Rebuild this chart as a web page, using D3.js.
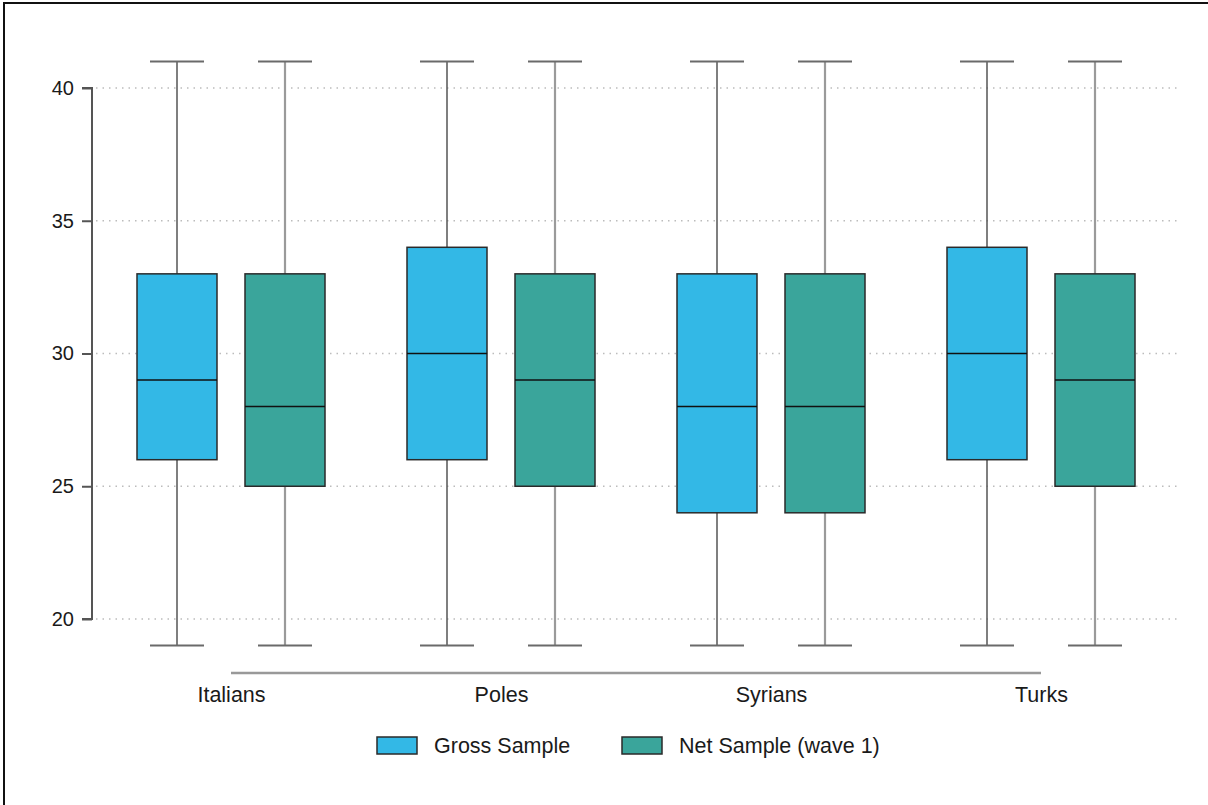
<!DOCTYPE html>
<html>
<head>
<meta charset="utf-8">
<script src="https://cdn.jsdelivr.net/npm/d3@7"></script>
<style>
  html, body { margin: 0; padding: 0; background: #fff; }
  svg { display: block; }
  text { font-family: "Liberation Sans", Arial, sans-serif; fill: #1a1a1a; }
</style>
</head>
<body>
<svg id="chart" width="1208" height="805"></svg>
<script>
const categories = ["Italians", "Poles", "Syrians", "Turks"];
const series = ["Gross Sample", "Net Sample (wave 1)"];
const seriesColors = ["#33b8e6", "#3aa59b"];
const yTicks = [20, 25, 30, 35, 40];

// [whiskerLow, Q1, median, Q3, whiskerHigh]
const grossStats = [
  [19, 26, 29, 33, 41],
  [19, 26, 30, 34, 41],
  [19, 24, 28, 33, 41],
  [19, 26, 30, 34, 41]
];
const netStats = [
  [19, 25, 28, 33, 41],
  [19, 25, 29, 33, 41],
  [19, 24, 28, 33, 41],
  [19, 25, 29, 33, 41]
];

const svg = d3.select("#chart");

// outer frame
svg.append("rect").attr("x", 4).attr("y", 3).attr("width", 1230).attr("height", 830)
  .attr("fill", "none").attr("stroke", "#111").attr("stroke-width", 2);

const y = d3.scaleLinear().domain([20, 40]).range([619, 88]);
const x = d3.scalePoint().domain(categories).range([231, 1041]);
const xs = d3.scalePoint().domain(series).range([-54, 54]);

// gridlines
svg.append("g").selectAll("line").data(yTicks).join("line")
  .attr("x1", 96).attr("x2", 1178)
  .attr("y1", d => y(d)).attr("y2", d => y(d))
  .attr("stroke", "#bcbcbc").attr("stroke-width", 1.5)
  .attr("stroke-dasharray", "1.5,5");

// y axis
const yAxis = svg.append("g").attr("transform", "translate(92,0)")
  .call(d3.axisLeft(y).tickValues(yTicks).tickSize(10).tickPadding(8).tickFormat(d3.format("d")));
yAxis.select(".domain").attr("stroke", "#555").attr("stroke-width", 2)
  .attr("d", `M-10,${y(40)}H0V${y(20)}H-10`);
yAxis.selectAll(".tick line").attr("stroke", "#555").attr("stroke-width", 2);
yAxis.selectAll(".tick text").style("font-size", "20px").attr("fill", "#1a1a1a")
  .style("font-family", "'Liberation Sans', Arial, sans-serif");

// x axis
const xAxis = svg.append("g").attr("transform", "translate(0,673)")
  .call(d3.axisBottom(x).tickSize(0).tickPadding(14));
xAxis.select(".domain").attr("stroke", "#999").attr("stroke-width", 2.5)
  .attr("d", `M${x(categories[0])},0H${x(categories[categories.length - 1])}`);
xAxis.selectAll(".tick text").style("font-size", "21.5px").attr("fill", "#1a1a1a")
  .style("font-family", "'Liberation Sans', Arial, sans-serif");

const boxW = 80, capW = 54;
const whiskerColors = ["#555", "#9a9a9a"];
const whiskerWidths = [1.5, 2.2];
const allStats = [grossStats, netStats];

series.forEach((s, si) => {
  const g = svg.append("g");
  const data = allStats[si].map((st, ci) => ({ cat: categories[ci], st }));
  const cx = d => x(d.cat) + xs(s);
  // whisker verticals
  g.selectAll(".wl").data(data).join("line")
    .attr("x1", cx).attr("x2", cx)
    .attr("y1", d => y(d.st[4])).attr("y2", d => y(d.st[0]))
    .attr("stroke", whiskerColors[si]).attr("stroke-width", whiskerWidths[si]);
  // caps
  [0, 4].forEach(k => {
    g.selectAll(".cap" + k).data(data).join("line")
      .attr("x1", d => cx(d) - capW / 2).attr("x2", d => cx(d) + capW / 2)
      .attr("y1", d => y(d.st[k])).attr("y2", d => y(d.st[k]))
      .attr("stroke", "#6a6a6a").attr("stroke-width", 2);
  });
  // boxes
  g.selectAll("rect").data(data).join("rect")
    .attr("x", d => cx(d) - boxW / 2).attr("width", boxW)
    .attr("y", d => y(d.st[3])).attr("height", d => y(d.st[1]) - y(d.st[3]))
    .attr("fill", seriesColors[si]).attr("stroke", "#2a2a2a").attr("stroke-width", 1.5);
  // medians
  g.selectAll(".med").data(data).join("line")
    .attr("x1", d => cx(d) - boxW / 2).attr("x2", d => cx(d) + boxW / 2)
    .attr("y1", d => y(d.st[2])).attr("y2", d => y(d.st[2]))
    .attr("stroke", "#111").attr("stroke-width", 1.5);
});

// legend
const legendX = [377, 622];
const legend = svg.append("g");
series.forEach((s, i) => {
  legend.append("rect").attr("x", legendX[i]).attr("y", 737).attr("width", 40).attr("height", 17)
    .attr("fill", seriesColors[i]).attr("stroke", "#2a2a2a").attr("stroke-width", 1.5);
  legend.append("text").attr("x", legendX[i] + 57).attr("y", 753)
    .style("font-size", "21.5px").text(s);
});
</script>
</body>
</html>
